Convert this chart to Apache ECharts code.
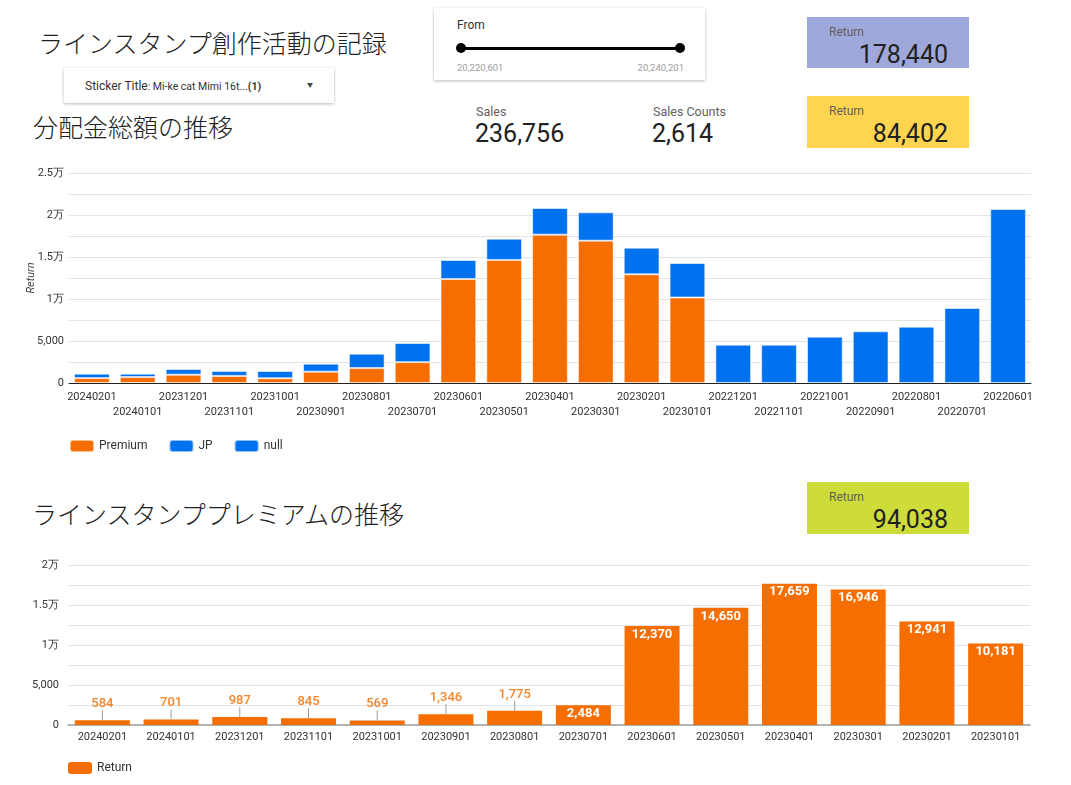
<!DOCTYPE html>
<html>
<head>
<meta charset="utf-8">
<script src="https://cdn.jsdelivr.net/npm/echarts@6/dist/echarts.min.js"></script>
<style>
    body { margin: 0; width: 1071px; height: 785px; background: #fff; font-family: Roboto, "Noto Sans CJK JP", sans-serif; color: #212121; position: relative; overflow: hidden; }
    .abs { position: absolute; white-space: nowrap; }
    .title { font-family: "Noto Sans CJK JP", sans-serif; font-size: 25px; font-weight: 300; line-height: 30px; color: #212121; }
    .card { position: absolute; background: #fff; box-shadow: 0 1px 3px rgba(0,0,0,0.28); }
    .lbl { font-size: 12.5px; color: #616161; line-height: 16px; }
    .big { font-size: 25px; line-height: 30px; color: #212121; }
    .score { position: absolute; width: 162px; height: 52px; }
    .score .t { position: absolute; left: 22px; top: 7px; font-size: 12px; line-height: 16px; color: #5f5f5f; }
    .score .v { position: absolute; right: 21px; top: 23px; font-size: 25px; line-height: 30px; color: #212121; }
</style>
</head>
<body>
<div class="abs title" style="left:38px;top:27px;">ラインスタンプ創作活動の記録</div>
<div class="card" style="left:64px;top:68px;width:270px;height:35px;">
    <div class="abs" style="left:21px;top:10px;font-size:12px;line-height:16px;color:#333;">Sticker Title<span style="font-size:10.5px;">: Mi-ke cat Mimi 16t...</span><span style="font-size:10.5px;font-weight:bold;">(1)</span></div>
    <div class="abs" style="left:243px;top:11px;font-size:6px;line-height:12px;color:#444;">▼</div>
</div>
<div class="abs title" style="left:33px;top:111px;">分配金総額の推移</div>

<div class="card" style="left:434px;top:8px;width:271px;height:72px;">
    <div class="abs" style="left:23px;top:9px;font-size:12px;line-height:16px;color:#333;">From</div>
    <div class="abs" style="left:27px;top:39px;width:219px;height:3px;background:#000;"></div>
    <div class="abs" style="left:22px;top:35px;width:10px;height:10px;border-radius:5px;background:#000;"></div>
    <div class="abs" style="left:241px;top:35px;width:10px;height:10px;border-radius:5px;background:#000;"></div>
    <div class="abs" style="left:23px;top:53px;font-size:9.5px;line-height:14px;color:#9e9e9e;">20,220,601</div>
    <div class="abs" style="right:21px;top:53px;font-size:9.5px;line-height:14px;color:#9e9e9e;">20,240,201</div>
</div>

<div class="abs lbl" style="left:476px;top:104px;">Sales</div>
<div class="abs big" style="left:475px;top:119px;">236,756</div>
<div class="abs lbl" style="left:653px;top:104px;">Sales Counts</div>
<div class="abs big" style="left:652px;top:119px;">2,614</div>

<div class="score" style="left:807px;top:17px;background:#9fa8da;height:51px;"><div class="t">Return</div><div class="v">178,440</div></div>
<div class="score" style="left:807px;top:96px;background:#ffd54f;"><div class="t">Return</div><div class="v">84,402</div></div>

<div id="chart" class="abs" style="left:0;top:150px;width:1071px;height:310px;"></div>

<div class="abs title" style="left:32px;top:498px;">ラインスタンププレミアムの推移</div>
<div class="score" style="left:807px;top:482px;background:#cddc39;"><div class="t">Return</div><div class="v">94,038</div></div>

<div id="chart2" class="abs" style="left:0;top:540px;width:1071px;height:245px;"></div>

<script>
// 月ごとの分配金 (新しい順)
var months = ['20240201', '20240101', '20231201', '20231101', '20231001', '20230901', '20230801',
    '20230701', '20230601', '20230501', '20230401', '20230301', '20230201', '20230101',
    '20221201', '20221101', '20221001', '20220901', '20220801', '20220701', '20220601'];
var premium = [584, 701, 987, 845, 569, 1346, 1775, 2484, 12370, 14650, 17659, 16946, 12941, 10181,
    '-', '-', '-', '-', '-', '-', '-'];
var jp = [527, 410, 680, 584, 860, 956, 1717, 2278, 2273, 2533, 3174, 3371, 3170, 4105,
    '-', '-', '-', '-', '-', '-', '-'];
var nullCountry = ['-', '-', '-', '-', '-', '-', '-', '-', '-', '-', '-', '-', '-', '-',
    4563, 4563, 5516, 6151, 6706, 8929, 20714];

// プレミアムの推移
var premiumMonths = months.slice(0, 14);
var premiumReturn = premium.slice(0, 14);

var yTicks = { top: 25000, bottom: 20000, step: 2500 };

var ORANGE = '#f66d00';
var BLUE = '#0072f0';

function manLabel(v) {
    if (v === 0) return '0';
    if (v % 5000 !== 0) return '';
    if (v < 10000) return v.toLocaleString('en-US');
    return (v / 10000) + '万';
}

var chart = echarts.init(document.getElementById('chart'));
chart.setOption({
    animation: false,
    textStyle: { fontFamily: 'Roboto' },
    grid: { left: 69, right: 40, top: 23, bottom: 77, outerBoundsMode: 'none' },
    legend: {
        left: 69, top: 289, padding: 0,
        itemWidth: 24, itemHeight: 12, itemGap: 21,
        textStyle: { fontSize: 12, color: '#333' },
        data: ['Premium', 'JP', 'null']
    },
    xAxis: {
        type: 'category',
        data: months,
        axisTick: { show: false },
        axisLine: { lineStyle: { color: '#222', width: 1 } },
        axisLabel: {
            interval: 0, fontSize: 11, color: '#333', margin: 7, lineHeight: 15,
            formatter: function(v, i) { return i % 2 ? '\n' + v : v; }
        }
    },
    yAxis: {
        type: 'value', min: 0, max: yTicks.top, interval: yTicks.step,
        name: 'Return', nameLocation: 'middle', nameRotate: 90, nameGap: 32, nameMoveOverlap: false,
        nameTextStyle: { fontSize: 11, fontStyle: 'italic', color: '#444' },
        axisLabel: { fontSize: 11, color: '#333', margin: 5, formatter: manLabel },
        splitLine: { lineStyle: { color: '#e3e3e3' } }
    },
    series: [{
        name: 'Premium', type: 'bar', stack: 'r', data: premium, barCategoryGap: '22%',
        itemStyle: { color: ORANGE, borderColor: 'rgba(255,255,255,0.55)', borderWidth: 1 }
    }, {
        name: 'JP', type: 'bar', stack: 'r', data: jp,
        itemStyle: { color: BLUE, borderColor: 'rgba(255,255,255,0.55)', borderWidth: 1 }
    }, {
        name: 'null', type: 'bar', stack: 'r', data: nullCountry,
        itemStyle: { color: BLUE, borderColor: 'rgba(255,255,255,0.55)', borderWidth: 1 }
    }]
});

// 棒に収まらない値は上に出して引き出し線
function fitsInside(v) { return v > 2000; }

var premiumData = premiumReturn.map(function(v) {
    if (fitsInside(v)) {
        return { value: v, label: { position: 'insideTop', distance: 2, color: '#fff', fontWeight: 'bold' } };
    }
    return { value: v, label: { position: 'top', distance: 2, color: '#f4862c', fontWeight: 500 },
        labelLine: { show: true, lineStyle: { color: '#9e9e9e', width: 1 } } };
});

var chart2 = echarts.init(document.getElementById('chart2'));
chart2.setOption({
    animation: false,
    textStyle: { fontFamily: 'Roboto' },
    grid: { left: 68, right: 41, top: 25, bottom: 60, outerBoundsMode: 'none' },
    legend: {
        left: 68, top: 222, padding: 0,
        itemWidth: 24, itemHeight: 12,
        textStyle: { fontSize: 12, color: '#333' }
    },
    xAxis: {
        type: 'category',
        data: premiumMonths,
        axisTick: { show: false },
        axisLine: { lineStyle: { color: '#9e9e9e', width: 1.5 } },
        axisLabel: { interval: 0, fontSize: 11, color: '#333', margin: 7 }
    },
    yAxis: {
        type: 'value', min: 0, max: yTicks.bottom, interval: yTicks.step,
        axisLabel: { fontSize: 11, color: '#333', margin: 9, formatter: manLabel },
        splitLine: { lineStyle: { color: '#e3e3e3' } }
    },
    series: [{
        name: 'Return', type: 'bar', data: premiumData, barCategoryGap: '20%',
        itemStyle: { color: ORANGE },
        label: {
            show: true, fontSize: 13,
            formatter: function(p) { return p.value.toLocaleString('en-US'); }
        },
        labelLayout: function(p) {
            return fitsInside(premiumReturn[p.dataIndex]) ? {} : { dy: -8 };
        }
    }]
});
</script>
</body>
</html>
